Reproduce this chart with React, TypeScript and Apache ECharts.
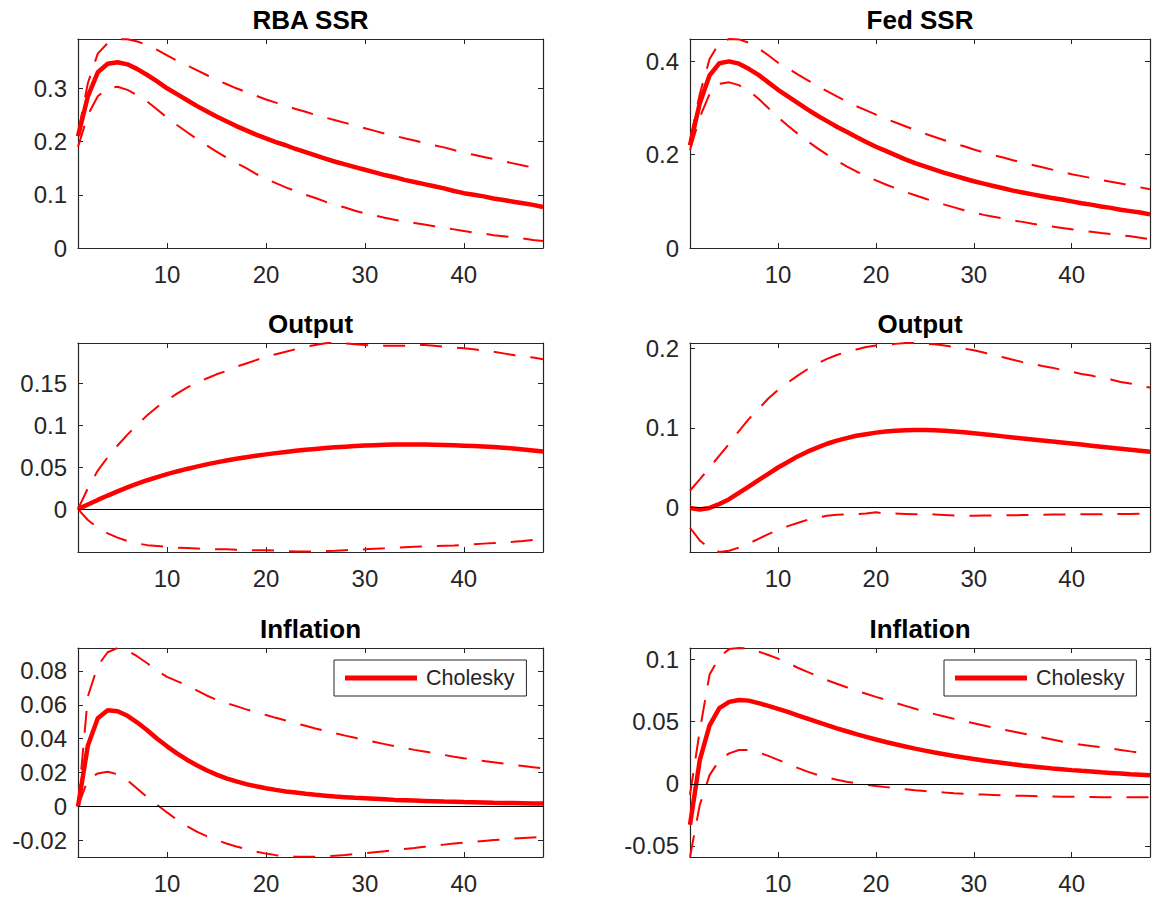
import React, { useEffect, useRef } from "react";
import * as echarts from "echarts";

// Horizon (periods after the shock)
const horizon = [
  1, 2, 3, 4, 5, 6, 7, 8, 9, 10, 11, 12, 13, 14, 15, 16, 17, 18, 19, 20, 21, 22, 23, 24,
  25, 26, 27, 28, 29, 30, 31, 32, 33, 34, 35, 36, 37, 38, 39, 40, 41, 42, 43, 44, 45, 46, 47, 48,
];

const panelTitles = ["RBA SSR", "Fed SSR", "Output", "Output", "Inflation", "Inflation"];
const legendLabel = "Cholesky";
const xTicks = [10, 20, 30, 40];

// RBA shadow short rate
const rbaSsrIrf = [
  0.21, 0.285, 0.33, 0.346, 0.349, 0.345, 0.336, 0.325, 0.313, 0.3,
  0.289, 0.278, 0.267, 0.257, 0.247, 0.238, 0.229, 0.221, 0.213, 0.206,
  0.199, 0.193, 0.186, 0.18, 0.174, 0.168, 0.162, 0.157, 0.152, 0.147,
  0.142, 0.137, 0.133, 0.128, 0.124, 0.12, 0.116, 0.112, 0.107, 0.103,
  0.1, 0.097, 0.093, 0.09, 0.087, 0.084, 0.081, 0.077,
];
const rbaSsrUpper = [
  0.215, 0.31, 0.365, 0.385, 0.392, 0.392, 0.388, 0.381, 0.372, 0.362,
  0.352, 0.343, 0.334, 0.325, 0.316, 0.308, 0.3, 0.293, 0.286, 0.279,
  0.273, 0.267, 0.261, 0.256, 0.25, 0.245, 0.24, 0.235, 0.23, 0.225,
  0.22, 0.215, 0.211, 0.206, 0.202, 0.197, 0.193, 0.189, 0.184, 0.179,
  0.175, 0.171, 0.167, 0.163, 0.159, 0.155, 0.151, 0.147,
];
const rbaSsrLower = [
  0.19, 0.25, 0.285, 0.3, 0.303, 0.297, 0.287, 0.275, 0.26, 0.245,
  0.231, 0.218, 0.205, 0.193, 0.181, 0.17, 0.16, 0.15, 0.139, 0.13,
  0.122, 0.114, 0.107, 0.1, 0.094, 0.087, 0.081, 0.076, 0.07, 0.065,
  0.061, 0.057, 0.053, 0.05, 0.047, 0.044, 0.041, 0.038, 0.035, 0.032,
  0.029, 0.027, 0.024, 0.022, 0.02, 0.018, 0.015, 0.013,
];

// Fed shadow short rate
const fedSsrIrf = [
  0.22, 0.31, 0.37, 0.396, 0.4, 0.395, 0.384, 0.371, 0.355, 0.339,
  0.325, 0.311, 0.297, 0.284, 0.272, 0.26, 0.249, 0.238, 0.227, 0.217,
  0.208, 0.199, 0.19, 0.182, 0.175, 0.168, 0.161, 0.155, 0.149, 0.143,
  0.138, 0.133, 0.128, 0.123, 0.119, 0.115, 0.111, 0.107, 0.104, 0.1,
  0.096, 0.093, 0.089, 0.086, 0.082, 0.079, 0.076, 0.072,
];
const fedSsrUpper = [
  0.23, 0.33, 0.405, 0.44, 0.448, 0.447, 0.44, 0.428, 0.413, 0.397,
  0.385, 0.372, 0.36, 0.348, 0.336, 0.325, 0.314, 0.304, 0.295, 0.286,
  0.277, 0.269, 0.261, 0.253, 0.245, 0.238, 0.231, 0.224, 0.218, 0.211,
  0.205, 0.199, 0.194, 0.188, 0.183, 0.178, 0.173, 0.168, 0.163, 0.158,
  0.154, 0.15, 0.146, 0.142, 0.138, 0.134, 0.13, 0.126,
];
const fedSsrLower = [
  0.21, 0.28, 0.33, 0.352, 0.355, 0.349, 0.337, 0.32, 0.3, 0.28,
  0.262, 0.245, 0.229, 0.214, 0.2, 0.187, 0.175, 0.164, 0.154, 0.145,
  0.136, 0.128, 0.12, 0.113, 0.106, 0.099, 0.093, 0.087, 0.081, 0.076,
  0.071, 0.067, 0.063, 0.059, 0.056, 0.052, 0.049, 0.046, 0.043, 0.04,
  0.037, 0.035, 0.032, 0.03, 0.027, 0.025, 0.022, 0.019,
];

// Australian output
const ausOutputIrf = [
  0, 0.0055, 0.011, 0.0162, 0.0212, 0.026, 0.0305, 0.0345, 0.0383, 0.0418,
  0.045, 0.048, 0.0508, 0.0534, 0.0558, 0.058, 0.0601, 0.062, 0.0638, 0.0654,
  0.0669, 0.0683, 0.0696, 0.0708, 0.0719, 0.0729, 0.0738, 0.0746, 0.0753, 0.0759,
  0.0764, 0.0768, 0.0771, 0.0772, 0.0772, 0.0771, 0.0769, 0.0766, 0.0762, 0.0758,
  0.0753, 0.0747, 0.0741, 0.0734, 0.0724, 0.0713, 0.0701, 0.0689,
];
const ausOutputUpper = [
  0, 0.025, 0.046, 0.062, 0.076, 0.089, 0.101, 0.112, 0.122, 0.13,
  0.138, 0.145, 0.151, 0.156, 0.161, 0.165, 0.17, 0.174, 0.178, 0.182,
  0.185, 0.188, 0.191, 0.194, 0.196, 0.198, 0.199, 0.198, 0.197, 0.196,
  0.195, 0.195, 0.195, 0.195, 0.196, 0.196, 0.195, 0.194, 0.193, 0.192,
  0.191, 0.189, 0.188, 0.186, 0.184, 0.182, 0.181, 0.179,
];
const ausOutputLower = [
  0, -0.013, -0.022, -0.029, -0.034, -0.038, -0.041, -0.043, -0.044, -0.045,
  -0.046, -0.0465, -0.047, -0.0475, -0.048, -0.048, -0.0485, -0.049, -0.049, -0.049,
  -0.0495, -0.05, -0.0505, -0.0505, -0.0505, -0.05, -0.0497, -0.049, -0.0485, -0.048,
  -0.0473, -0.0467, -0.046, -0.0455, -0.045, -0.0447, -0.0443, -0.0438, -0.0433, -0.0427,
  -0.042, -0.0412, -0.0405, -0.0397, -0.039, -0.038, -0.0368, -0.0357,
];

// US output
const usOutputIrf = [
  -0.001, -0.003, -0.001, 0.004, 0.01, 0.018, 0.026, 0.034, 0.042, 0.05,
  0.057, 0.064, 0.07, 0.075, 0.08, 0.084, 0.087, 0.09, 0.092, 0.094,
  0.0955, 0.0965, 0.097, 0.0972, 0.0972, 0.097, 0.0965, 0.0955, 0.0945, 0.0932,
  0.0919, 0.0906, 0.0893, 0.088, 0.0867, 0.0854, 0.0841, 0.0828, 0.0815, 0.0802,
  0.0789, 0.0776, 0.0763, 0.075, 0.0737, 0.0724, 0.0711, 0.0698,
];
const usOutputUpper = [
  0.021, 0.035, 0.05, 0.065, 0.08, 0.096, 0.111, 0.124, 0.137, 0.148,
  0.157, 0.166, 0.174, 0.181, 0.187, 0.192, 0.196, 0.199, 0.202, 0.204,
  0.205, 0.206, 0.207, 0.207, 0.206, 0.2055, 0.204, 0.202, 0.2, 0.198,
  0.195, 0.192, 0.189, 0.186, 0.183, 0.181, 0.178, 0.176, 0.173, 0.171,
  0.168, 0.166, 0.163, 0.161, 0.158, 0.156, 0.153, 0.151,
];
const usOutputLower = [
  -0.026, -0.042, -0.052, -0.0566, -0.055, -0.051, -0.046, -0.04, -0.034, -0.029,
  -0.024, -0.02, -0.016, -0.013, -0.011, -0.0095, -0.009, -0.0088, -0.008, -0.0065,
  -0.0085, -0.008, -0.0085, -0.009, -0.0088, -0.0092, -0.0098, -0.0105, -0.0108, -0.0108,
  -0.0106, -0.0104, -0.0104, -0.0102, -0.01, -0.0098, -0.0095, -0.0094, -0.0093, -0.0092,
  -0.0091, -0.009, -0.0089, -0.0088, -0.0087, -0.0085, -0.0083, -0.008,
];

// Australian inflation
const ausInflationIrf = [
  0, 0.036, 0.052, 0.0568, 0.0562, 0.0535, 0.0495, 0.045, 0.04, 0.0355,
  0.0313, 0.0276, 0.0243, 0.0214, 0.0188, 0.0166, 0.0148, 0.0132, 0.0119, 0.0108,
  0.0098, 0.0089, 0.0082, 0.0075, 0.0069, 0.0064, 0.0059, 0.0055, 0.0051, 0.0048,
  0.0045, 0.0042, 0.0039, 0.0037, 0.0035, 0.0033, 0.0031, 0.0029, 0.0028, 0.0026,
  0.0025, 0.0024, 0.0022, 0.0021, 0.002, 0.0019, 0.0018, 0.0017,
];
const ausInflationUpper = [
  0, 0.065, 0.083, 0.091, 0.0935, 0.092, 0.0885, 0.0845, 0.08, 0.0765,
  0.074, 0.0715, 0.0685, 0.0655, 0.063, 0.061, 0.0592, 0.0573, 0.0556, 0.054,
  0.0523, 0.0507, 0.0491, 0.0476, 0.046, 0.0446, 0.0432, 0.0418, 0.0405, 0.0392,
  0.038, 0.0368, 0.0356, 0.0345, 0.0334, 0.0324, 0.0314, 0.0304, 0.0294, 0.0285,
  0.0277, 0.0269, 0.0261, 0.0253, 0.0246, 0.0239, 0.0232, 0.0225,
];
const ausInflationLower = [
  0, 0.016, 0.0195, 0.0205, 0.019, 0.0155, 0.0105, 0.0055, 0.001, -0.0035,
  -0.0078, -0.0116, -0.0148, -0.0175, -0.0198, -0.0218, -0.0236, -0.0252, -0.0266, -0.0278,
  -0.0287, -0.0293, -0.0296, -0.0297, -0.0296, -0.0294, -0.029, -0.0286, -0.0281, -0.0276,
  -0.027, -0.0264, -0.0258, -0.0251, -0.0245, -0.0238, -0.0231, -0.0225, -0.0219, -0.0213,
  -0.0208, -0.0203, -0.0198, -0.0194, -0.019, -0.0186, -0.0183, -0.018,
];

// US inflation
const usInflationIrf = [
  -0.033, 0.019, 0.047, 0.061, 0.066, 0.0675, 0.067, 0.065, 0.0627, 0.0603,
  0.058, 0.0552, 0.0525, 0.0498, 0.0472, 0.0447, 0.0423, 0.04, 0.0378, 0.0357,
  0.0337, 0.0318, 0.03, 0.0283, 0.0267, 0.0252, 0.0238, 0.0224, 0.0211, 0.0199,
  0.0188, 0.0177, 0.0167, 0.0157, 0.0148, 0.014, 0.0132, 0.0124, 0.0117, 0.011,
  0.0104, 0.0098, 0.0092, 0.0087, 0.0082, 0.0077, 0.0073, 0.0068,
];
const usInflationUpper = [
  -0.009, 0.043, 0.088, 0.102, 0.1085, 0.1094, 0.109, 0.1065, 0.1038, 0.1008,
  0.0975, 0.0935, 0.0902, 0.0868, 0.0835, 0.0806, 0.0778, 0.0751, 0.0725, 0.07,
  0.0676, 0.0652, 0.0628, 0.0604, 0.058, 0.0561, 0.0542, 0.0523, 0.0505, 0.0487,
  0.047, 0.0453, 0.0437, 0.0421, 0.0405, 0.0389, 0.0373, 0.0357, 0.0341, 0.0326,
  0.0315, 0.0304, 0.0294, 0.0283, 0.0273, 0.0261, 0.025, 0.0238,
];
const usInflationLower = [
  -0.059, -0.017, 0.007, 0.019, 0.0245, 0.0272, 0.0272, 0.0252, 0.0225, 0.0193,
  0.016, 0.0128, 0.0098, 0.0072, 0.005, 0.0032, 0.0017, 0.0004, -0.0008, -0.0018,
  -0.0027, -0.0036, -0.0044, -0.0052, -0.0059, -0.0065, -0.0071, -0.0076, -0.008, -0.0084,
  -0.0087, -0.009, -0.0093, -0.0095, -0.0097, -0.0099, -0.0101, -0.0103, -0.0104, -0.0105,
  -0.0106, -0.0107, -0.0108, -0.0108, -0.0109, -0.0109, -0.0109, -0.0108,
];

// Per-panel y tick labels and limits
const yTicks = [
  [0, 0.1, 0.2, 0.3],
  [0, 0.2, 0.4],
  [0, 0.05, 0.1, 0.15],
  [0, 0.1, 0.2],
  [-0.02, 0, 0.02, 0.04, 0.06, 0.08],
  [-0.05, 0, 0.05, 0.1],
];
const yMin = [0, 0, -0.0512, -0.0566, -0.0298, -0.059];
const yMax = [0.3926, 0.4479, 0.1984, 0.2071, 0.0935, 0.1094];

const irfs = [rbaSsrIrf, fedSsrIrf, ausOutputIrf, usOutputIrf, ausInflationIrf, usInflationIrf];
const uppers = [rbaSsrUpper, fedSsrUpper, ausOutputUpper, usOutputUpper, ausInflationUpper, usInflationUpper];
const lowers = [rbaSsrLower, fedSsrLower, ausOutputLower, usOutputLower, ausInflationLower, usInflationLower];

const FONT = "'Liberation Sans', Arial, Helvetica, sans-serif";
const RED = "#ff0000";
const AXIS = "#262626";

// Layout of the 3x2 panel grid (pixels)
const colLeft = [78, 690];
const colWidth = [465, 460];
const rowTop = [39, 343, 648];
const rowHeight = 209;

const pts = (vals: number[]) => horizon.map((h, i) => [h, vals[i]]);

function buildOption() {
  const grid: any[] = [];
  const xAxis: any[] = [];
  const yAxis: any[] = [];
  const series: any[] = [];
  const title: any[] = [];
  const legend: any[] = [];

  panelTitles.forEach((name, i) => {
    const col = i % 2;
    const row = Math.floor(i / 2);
    grid.push({
      left: colLeft[col],
      top: rowTop[row],
      width: colWidth[col],
      height: rowHeight,
      containLabel: false,
    });
    title.push({
      text: name,
      left: colLeft[col] + colWidth[col] / 2,
      top: rowTop[row] - 32,
      textAlign: "center",
      padding: 0,
      textStyle: { fontFamily: FONT, fontSize: 26, fontWeight: "bold", color: "#000" },
    });

    const tickStyle = { show: true, inside: true, length: 5, lineStyle: { color: AXIS, width: 1 } };
    const lineStyle = { show: true, onZero: false, lineStyle: { color: AXIS, width: 1.2 } };

    xAxis.push({
      type: "value",
      gridIndex: i,
      position: "bottom",
      min: 1,
      max: 48,
      axisLine: lineStyle,
      axisTick: { ...tickStyle, customValues: xTicks },
      axisLabel: {
        customValues: xTicks,
        margin: 14,
        fontFamily: FONT,
        fontSize: 24,
        color: AXIS,
      },
      splitLine: { show: false },
    });
    xAxis.push({
      type: "value",
      gridIndex: i,
      position: "top",
      min: 1,
      max: 48,
      axisLine: lineStyle,
      axisTick: { ...tickStyle, customValues: xTicks },
      axisLabel: { show: false },
      splitLine: { show: false },
    });
    yAxis.push({
      type: "value",
      gridIndex: i,
      position: "left",
      min: yMin[i],
      max: yMax[i],
      axisLine: lineStyle,
      axisTick: { ...tickStyle, customValues: yTicks[i] },
      axisLabel: {
        customValues: yTicks[i],
        margin: 11,
        fontFamily: FONT,
        fontSize: 24,
        color: AXIS,
      },
      splitLine: { show: false },
    });
    yAxis.push({
      type: "value",
      gridIndex: i,
      position: "right",
      min: yMin[i],
      max: yMax[i],
      axisLine: lineStyle,
      axisTick: { ...tickStyle, customValues: yTicks[i] },
      axisLabel: { show: false },
      splitLine: { show: false },
    });

    const common = {
      type: "line",
      xAxisIndex: 2 * i,
      yAxisIndex: 2 * i,
      showSymbol: false,
      symbol: "none",
      smooth: false,
      silent: true,
    };
    series.push({
      ...common,
      name: "Upper band",
      data: pts(uppers[i]),
      lineStyle: { color: RED, width: 2, type: [22, 15] },
      itemStyle: { color: RED },
    });
    series.push({
      ...common,
      name: "Lower band",
      data: pts(lowers[i]),
      lineStyle: { color: RED, width: 2, type: [22, 15] },
      itemStyle: { color: RED },
    });
    series.push({
      ...common,
      name: legendLabel,
      data: pts(irfs[i]),
      lineStyle: { color: RED, width: 4.5 },
      itemStyle: { color: RED },
      markLine:
        row > 0
          ? {
              silent: true,
              symbol: "none",
              label: { show: false },
              lineStyle: { color: "#000", width: 1.2, type: "solid" },
              data: [{ yAxis: 0 }],
            }
          : undefined,
    });

    if (row === 2) {
      legend.push({
        data: [legendLabel],
        left: col === 0 ? 334 : 944,
        top: 660,
        orient: "horizontal",
        selectedMode: false,
        icon: "rect",
        itemWidth: 72,
        itemHeight: 5,
        padding: [7, 12, 7, 11],
        borderColor: AXIS,
        borderWidth: 1,
        borderRadius: 0,
        backgroundColor: "#fff",
        textStyle: { fontFamily: FONT, fontSize: 21.5, color: AXIS, padding: [0, 0, 0, 4] },
      });
    }
  });

  return { animation: false, backgroundColor: "#fff", title, grid, xAxis, yAxis, series, legend };
}

export default function App() {
  const ref = useRef<HTMLDivElement>(null);
  useEffect(() => {
    if (!ref.current) return;
    const chart = echarts.init(ref.current, undefined, { renderer: "svg" });
    chart.setOption(buildOption() as any);
    return () => chart.dispose();
  }, []);
  return (
    <div
      ref={ref}
      style={{ position: "absolute", left: 0, top: 0, width: 1154, height: 899, background: "#fff" }}
    />
  );
}
